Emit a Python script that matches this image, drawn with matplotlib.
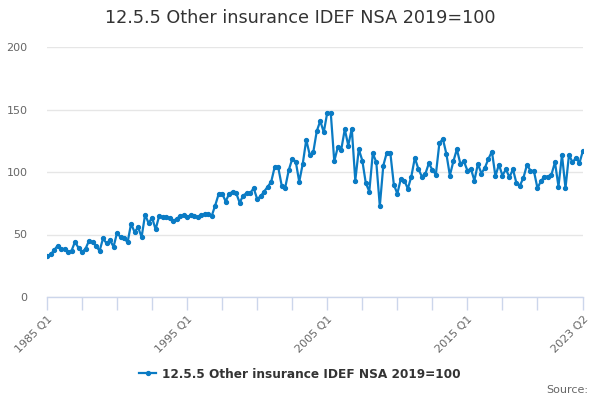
import matplotlib
matplotlib.use("Agg")
import matplotlib.pyplot as plt

quarters = [f"{y} Q{q}" for y in range(1985, 2024) for q in range(1, 5)][:154]

values = [
    32.5, 34.1, 37.3, 41.0, 38.1, 38.6, 35.9, 37.0, 44.2, 39.2,
    35.9, 38.6, 45.0, 43.7, 41.0, 36.8, 46.9, 42.9, 45.3, 40.2,
    51.4, 47.7, 47.1, 43.7, 58.6, 51.9, 55.9, 47.9, 65.8, 59.1,
    63.4, 54.1, 64.7, 63.9, 63.9, 63.1, 60.7, 62.6, 64.7, 65.5,
    63.9, 65.5, 64.7, 63.9, 65.7, 66.1, 66.1, 64.7, 73.2, 82.3,
    82.8, 76.4, 82.6, 84.2, 83.1, 75.4, 81.2, 83.1, 83.1, 87.1,
    78.3, 80.7, 84.4, 88.2, 92.2, 104.1, 103.8, 89.0, 87.6, 101.4,
    110.5, 108.4, 92.2, 106.5, 125.7, 113.7, 115.8, 132.6, 140.9, 131.8,
    147.5, 147.3, 108.6, 119.8, 118.0, 134.2, 121.2, 134.7, 93.2, 118.2,
    109.2, 91.1, 84.4, 115.0, 107.8, 72.7, 105.2, 115.6, 115.3, 90.0,
    82.6, 94.6, 93.2, 86.6, 96.4, 111.3, 102.5, 96.4, 98.5, 107.0,
    101.7, 98.0, 123.0, 126.5, 114.5, 97.2, 108.6, 118.2, 106.5, 108.6,
    101.2, 102.5, 93.2, 106.5, 98.8, 103.4, 110.5, 116.4, 96.7, 106.0,
    97.2, 102.2, 95.8, 102.2, 91.1, 89.2, 95.4, 105.7, 101.2, 100.6,
    87.1, 92.7, 96.4, 96.4, 98.0, 107.8, 88.4, 113.7, 87.1, 113.7,
    107.8, 111.3, 107.3, 117.2,
]

series_name = "12.5.5 Other insurance IDEF NSA 2019=100"
title = "12.5.5 Other insurance IDEF NSA 2019=100"
y_ticks = [0, 50, 100, 150, 200]
labelled = ["1985 Q1", "1995 Q1", "2005 Q1", "2015 Q1", "2023 Q2"]

color = "#0a7bc4"

fig = plt.figure(figsize=(6, 4), dpi=100)
ax = fig.add_axes([47/600, 1 - 297/400, (583 - 47)/600, (297 - 47)/400])

x = list(range(len(values)))
ax.plot(x, values, color=color, lw=1.6, marker="o", ms=2.8, label=series_name, zorder=3)

ax.set_xlim(0, len(values) - 1)
ax.set_ylim(0, 200)
ax.set_yticks(y_ticks)
ax.set_yticklabels([str(v) for v in y_ticks], color="#666666", fontsize=8)
ax.tick_params(axis="y", length=0, pad=14)
ax.grid(axis="y", color="#e6e6e6", lw=1)
ax.set_axisbelow(True)

tick_pos = list(range(0, 150, 10)) + [len(values) - 1]
ax.set_xticks(tick_pos)
ax.set_xticklabels([quarters[p] if quarters[p] in labelled else "" for p in tick_pos],
                   rotation=45, ha="right", rotation_mode="anchor",
                   color="#666666", fontsize=8)
ax.tick_params(axis="x", length=9, color="#ccd6eb", width=1, pad=3)

for s in ["left", "right", "top"]:
    ax.spines[s].set_visible(False)
ax.spines["bottom"].set_color("#ccd6eb")
ax.spines["bottom"].set_linewidth(1)

fig.text(0.5, 1 - 18/400, title, ha="center", va="center", fontsize=12.7, color="#333333")

leg = fig.legend(loc="center", bbox_to_anchor=(0.5, 1 - 374/400), frameon=False,
                 prop={"size": 8.7, "weight": "bold"}, handlelength=1.4, handletextpad=0.5)
for t in leg.get_texts():
    t.set_color("#333333")

fig.text(588/600, 1 - 390/400, "Source:", ha="right", va="center", fontsize=8, color="#666666")

fig.savefig("out.png", dpi=100)
